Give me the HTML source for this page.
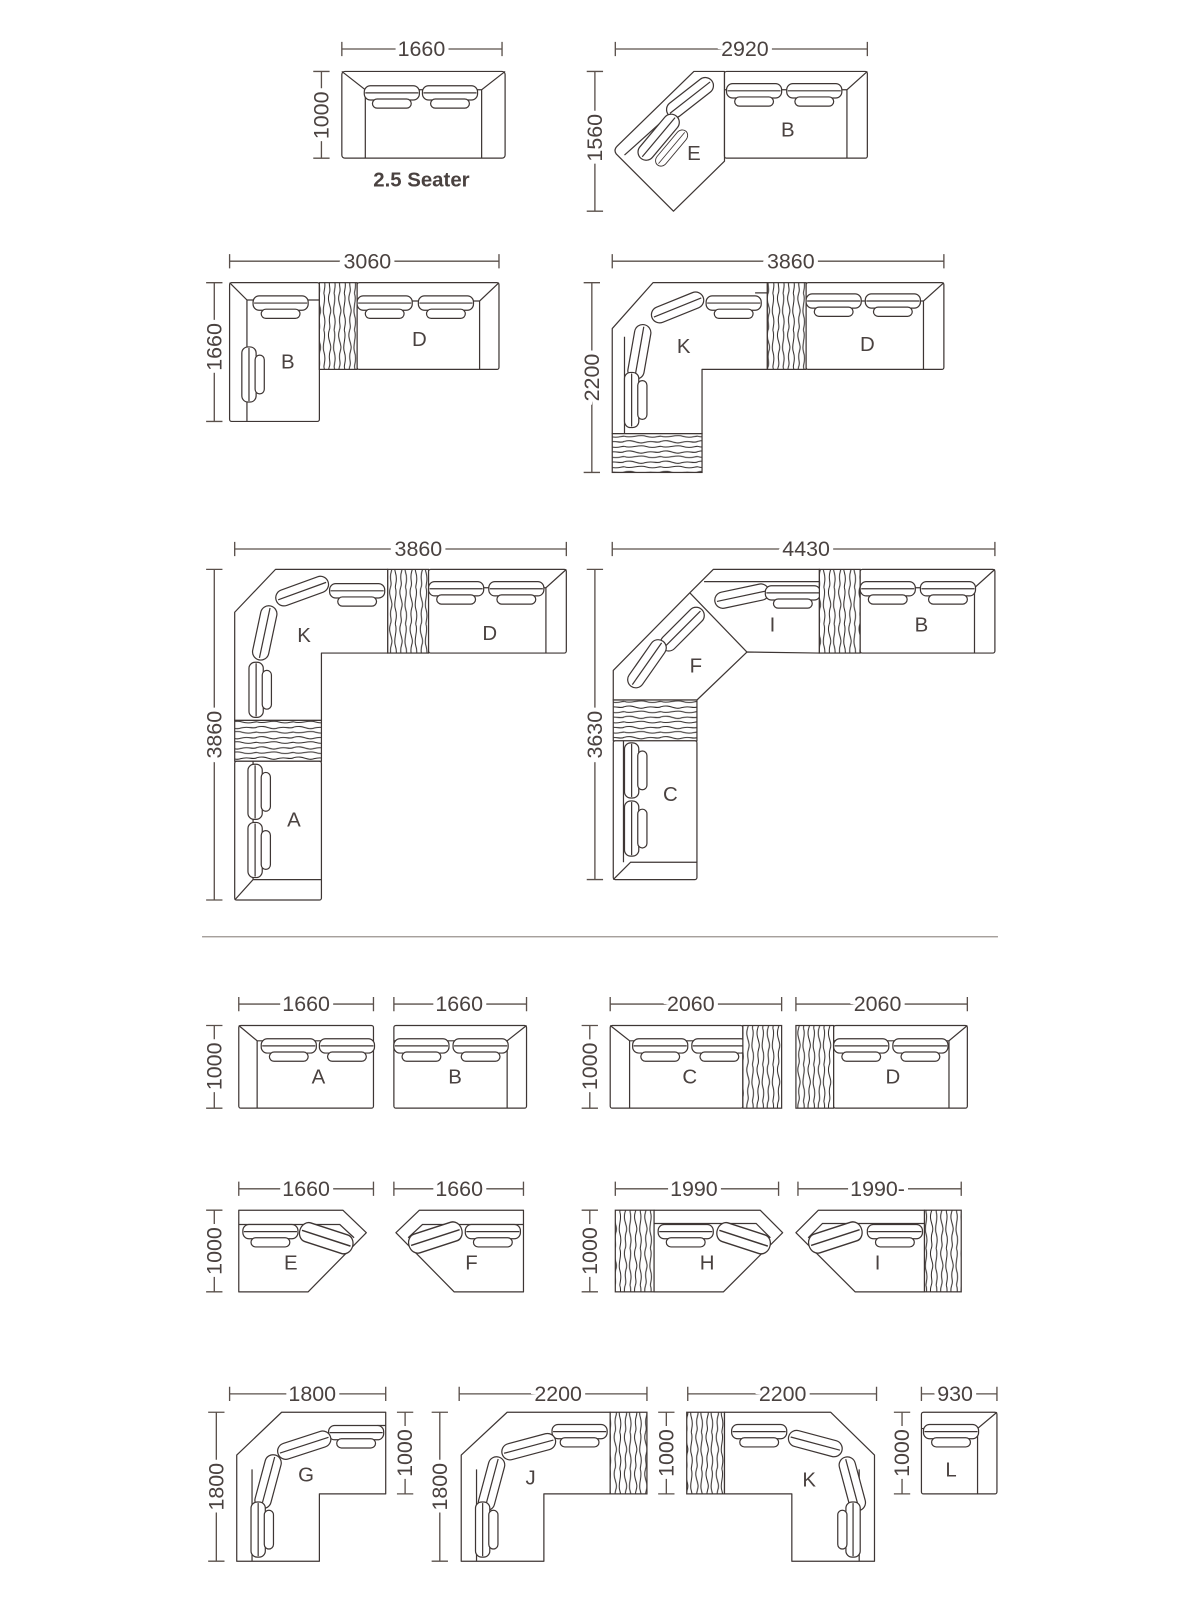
<!DOCTYPE html>
<html><head><meta charset="utf-8"><style>
html,body{margin:0;padding:0;background:#fff;}
svg{display:block;}
.s{fill:#fff;stroke:#3e3634;stroke-width:1.2;stroke-linejoin:round}
.n{fill:none;stroke:#3e3634;stroke-width:1.2}
.w{stroke:#3e3634;stroke-width:1.2}
.d{fill:none;stroke:#5a504b;stroke-width:1.3}
.t{font-family:"Liberation Sans",sans-serif;font-size:21px;fill:#4a4240;text-anchor:middle;stroke:#fff;stroke-width:8px;paint-order:stroke;}
.l{font-family:"Liberation Sans",sans-serif;font-size:20px;fill:#4a4240;text-anchor:middle;}
</style></head><body>
<svg width="1200" height="1600" viewBox="0 0 1176 1568" xmlns="http://www.w3.org/2000/svg">
<defs>
<pattern id="wv" width="10" height="36" patternUnits="userSpaceOnUse">
<rect width="10" height="36" fill="#fff"/>
<path d="M2.5,0 C0,9 6,13 3.5,20 C1,28 5,31 2.5,36 M7.5,0 C10,7 5,14 7.5,21 C10,29 7,33 7.5,36" fill="none" stroke="#2f2a28" stroke-width="1"/>
</pattern>
<pattern id="wh" width="36" height="10" patternUnits="userSpaceOnUse">
<rect width="36" height="10" fill="#fff"/>
<path d="M0,2.5 C9,0 13,6 20,3.5 C28,1 31,5 36,2.5 M0,7.5 C7,10 14,5 21,7.5 C29,10 33,7 36,7.5" fill="none" stroke="#2f2a28" stroke-width="1"/>
</pattern>
<g id="hc"><rect x="0" y="0" width="54" height="14" rx="6" class="s"/><line x1="1" y1="7" x2="53" y2="7" class="n"/><rect x="8" y="13" width="38" height="9" rx="4.5" class="s"/></g>
<g id="vc"><rect x="0" y="0" width="14" height="54" rx="6" class="s"/><line x1="7" y1="1" x2="7" y2="53" class="n"/><rect x="13" y="8" width="9" height="38" rx="4.5" class="s"/></g>
<g id="dc"><rect x="0" y="0" width="54" height="16" rx="8" class="s"/><line x1="2" y1="8" x2="52" y2="8" class="n"/></g>
</defs>

<!-- ========== 2.5 Seater ========== -->
<path class="d" d="M335,48H492M335,41V55M492,41V55"/><text class="t" x="413" y="55">1660</text>
<path class="d" d="M315,70V155M307,70H323M307,155H323"/><text class="t" transform="rotate(-90 315 113)" x="315" y="120">1000</text>
<rect class="s" x="335" y="70" width="160" height="85" rx="3"/>
<path class="n" d="M335,70L358,88V155M495,70L472,88V155M358,88H472"/>
<use href="#hc" x="357" y="84"/><use href="#hc" x="414" y="84"/>
<text class="l" x="413" y="183" style="font-weight:bold;font-size:20px">2.5 Seater</text>

<!-- ========== E + B ========== -->
<path class="d" d="M603,48H850M603,41V55M850,41V55"/><text class="t" x="730" y="55">2920</text>
<path class="d" d="M583,70V207M575,70H591M575,207H591"/><text class="t" transform="rotate(-90 583 135)" x="583" y="142">1560</text>
<path class="s" d="M680,70L710,70L710,158L660,207L604,151Q601,147 605,143Z"/>
<path class="n" d="M612,152L690,82"/>
<use href="#dc" transform="translate(650,106) rotate(-38)"/>
<use href="#dc" transform="translate(622,150) rotate(-50)"/>
<use href="#dc" transform="translate(640,158) rotate(-50) scale(0.8,0.7)"/>
<text class="l" x="680" y="157">E</text>
<rect class="s" x="710" y="70" width="140" height="85" rx="2"/>
<path class="n" d="M850,70L830,88V155M710,88H830"/>
<use href="#hc" x="712" y="82"/><use href="#hc" x="771" y="82"/>
<text class="l" x="772" y="134">B</text>

<!-- ========== 3060 ========== -->
<path class="d" d="M225,256H489M225,249V263M489,249V263"/><text class="t" x="360" y="263">3060</text>
<path class="d" d="M210,277V413M202,277H218M202,413H218"/><text class="t" transform="rotate(-90 210 340)" x="210" y="347">1660</text>
<rect class="s" x="225" y="277" width="88" height="136" rx="2"/>
<path class="n" d="M225,277L242,294V413M242,294H313"/>
<use href="#hc" x="248" y="290"/>
<use href="#vc" x="237" y="340"/>
<text class="l" x="282" y="361">B</text>
<rect x="313" y="277" width="37" height="85" style="fill:url(#wv)" class="w"/>
<rect class="s" x="350" y="277" width="139" height="85" rx="2"/>
<path class="n" d="M489,277L470,295V362M350,295H470"/>
<use href="#hc" x="350" y="290"/><use href="#hc" x="410" y="290"/>
<text class="l" x="411" y="339">D</text>

<!-- ========== 3860 (K + D) ========== -->
<path class="d" d="M600,256H925M600,249V263M925,249V263"/><text class="t" x="775" y="263">3860</text>
<path class="d" d="M580,277V463M572,277H588M572,463H588"/><text class="t" transform="rotate(-90 580 370)" x="580" y="377">2200</text>
<path class="s" d="M600,322L640,277L752,277L752,362L688,362L688,425L600,425Z"/>
<path class="n" d="M612,330V425M740,287H752"/>
<use href="#hc" x="692" y="290"/>
<use href="#dc" transform="translate(636,304) rotate(-22)"/>
<use href="#dc" transform="translate(614,370) rotate(-80)"/>
<use href="#vc" x="612" y="365"/>
<text class="l" x="670" y="346">K</text>
<rect x="752" y="277" width="38" height="85" style="fill:url(#wv)" class="w"/>
<rect class="s" x="790" y="277" width="135" height="85" rx="2"/>
<path class="n" d="M925,277L905,295V362M790,295H905"/>
<use href="#hc" x="790" y="288"/><use href="#hc" x="848" y="288"/>
<text class="l" x="850" y="344">D</text>
<rect x="600" y="425" width="88" height="38" style="fill:url(#wh)" class="w"/>

<!-- ========== 3860 (K D A) ========== -->
<path class="d" d="M230,538H555M230,531V545M555,531V545"/><text class="t" x="410" y="545">3860</text>
<path class="d" d="M210,558V882M202,558H218M202,882H218"/><text class="t" transform="rotate(-90 210 720)" x="210" y="727">3860</text>
<path class="s" d="M230,600L270,558L380,558L380,640L315,640L315,706L230,706Z"/>
<use href="#hc" x="323" y="572"/>
<use href="#dc" transform="translate(268,581) rotate(-20)"/>
<use href="#dc" transform="translate(246,645) rotate(-78)"/>
<use href="#vc" x="244" y="649"/>
<text class="l" x="298" y="629">K</text>
<rect x="380" y="558" width="40" height="82" style="fill:url(#wv)" class="w"/>
<rect class="s" x="420" y="558" width="135" height="82" rx="2"/>
<path class="n" d="M555,558L535,576V640M420,576H535"/>
<use href="#hc" x="420" y="570"/><use href="#hc" x="479" y="570"/>
<text class="l" x="480" y="627">D</text>
<rect x="230" y="706" width="85" height="40" style="fill:url(#wh)" class="w"/>
<rect class="s" x="230" y="746" width="85" height="136" rx="2"/>
<path class="n" d="M230,882L248,862H315M248,746V862"/>
<use href="#vc" x="243" y="749"/><use href="#vc" x="243" y="806"/>
<text class="l" x="288" y="810">A</text>

<!-- ========== 4430 ========== -->
<path class="d" d="M600,538H975M600,531V545M975,531V545"/><text class="t" x="790" y="545">4430</text>
<path class="d" d="M583,558V862M575,558H591M575,862H591"/><text class="t" transform="rotate(-90 583 720)" x="583" y="727">3630</text>
<path class="s" d="M601,686L601,657L676,581L699,558L803,558L803,640L732,639L683,686Z"/>
<path class="n" d="M676,581L732,639M690,570H803"/>
<use href="#dc" transform="translate(699,582) rotate(-12)"/>
<use href="#hc" x="750" y="574"/>
<use href="#dc" transform="translate(644,630) rotate(-45)"/>
<use href="#dc" transform="translate(612,668) rotate(-55)"/>
<text class="l" x="757" y="619">I</text>
<text class="l" x="682" y="659">F</text>
<rect x="803" y="558" width="40" height="82" style="fill:url(#wv)" class="w"/>
<rect class="s" x="843" y="558" width="132" height="82" rx="2"/>
<path class="n" d="M975,558L955,576V640M843,576H955"/>
<use href="#hc" x="843" y="570"/><use href="#hc" x="902" y="570"/>
<text class="l" x="903" y="619">B</text>
<rect x="601" y="686" width="82" height="40" style="fill:url(#wh)" class="w"/>
<rect class="s" x="601" y="726" width="82" height="136" rx="2"/>
<path class="n" d="M601,862L618,845H683M611,726V845"/>
<use href="#vc" x="612" y="728"/><use href="#vc" x="612" y="785"/>
<text class="l" x="657" y="785">C</text>

<!-- separator -->
<line x1="198" y1="918" x2="978" y2="918" stroke="#9a928e" stroke-width="1.2"/>

<!-- ========== Row 2 ========== -->
<path class="d" d="M234,984H366M234,977V991M366,977V991"/><text class="t" x="300" y="991">1660</text>
<path class="d" d="M210,1005V1086M202,1005H218M202,1086H218"/><text class="t" transform="rotate(-90 210 1045)" x="210" y="1052">1000</text>
<rect class="s" x="234" y="1005" width="132" height="81" rx="2"/>
<path class="n" d="M234,1005L252,1020V1086M252,1020H366"/>
<use href="#hc" x="256" y="1018"/><use href="#hc" x="313" y="1018"/>
<text class="l" x="312" y="1062">A</text>

<path class="d" d="M386,984H516M386,977V991M516,977V991"/><text class="t" x="450" y="991">1660</text>
<rect class="s" x="386" y="1005" width="130" height="81" rx="2"/>
<path class="n" d="M516,1005L497,1020V1086M386,1020H497"/>
<use href="#hc" x="386" y="1018"/><use href="#hc" x="444" y="1018"/>
<text class="l" x="446" y="1062">B</text>

<path class="d" d="M598,984H766M598,977V991M766,977V991"/><text class="t" x="677" y="991">2060</text>
<path class="d" d="M578,1005V1086M570,1005H586M570,1086H586"/><text class="t" transform="rotate(-90 578 1045)" x="578" y="1052">1000</text>
<rect class="s" x="598" y="1005" width="130" height="81" rx="2"/>
<path class="n" d="M598,1005L617,1020V1086M617,1020H728"/>
<use href="#hc" x="620" y="1018"/><use href="#hc" x="678" y="1018"/>
<text class="l" x="676" y="1062">C</text>
<rect x="728" y="1005" width="38" height="81" style="fill:url(#wv)" class="w"/>

<path class="d" d="M780,984H948M780,977V991M948,977V991"/><text class="t" x="860" y="991">2060</text>
<rect x="780" y="1005" width="37" height="81" style="fill:url(#wv)" class="w"/>
<rect class="s" x="817" y="1005" width="131" height="81" rx="2"/>
<path class="n" d="M948,1005L930,1020V1086M817,1020H930"/>
<use href="#hc" x="817" y="1018"/><use href="#hc" x="875" y="1018"/>
<text class="l" x="875" y="1062">D</text>

<!-- ========== Row 3 ========== -->
<path class="d" d="M234,1165H366M234,1158V1172M366,1158V1172"/><text class="t" x="300" y="1172">1660</text>
<path class="d" d="M210,1186V1266M202,1186H218M202,1266H218"/><text class="t" transform="rotate(-90 210 1226)" x="210" y="1233">1000</text>
<path class="s" d="M234,1186L336,1186L359,1208L302,1266L234,1266Z"/>
<path class="n" d="M234,1200H333L347,1213"/>
<use href="#hc" x="238" y="1200"/>
<use href="#dc" transform="translate(297,1196) rotate(18) scale(1,1.2)"/>
<text class="l" x="285" y="1244">E</text>

<path class="d" d="M386,1165H513M386,1158V1172M513,1158V1172"/><text class="t" x="450" y="1172">1660</text>
<path class="s" d="M513,1186L411,1186L388,1208L445,1266L513,1266Z"/>
<path class="n" d="M513,1200H414L400,1213"/>
<use href="#hc" x="456" y="1200"/>
<use href="#dc" transform="translate(398,1212) rotate(-18) scale(1,1.2)"/>
<text class="l" x="462" y="1244">F</text>

<path class="d" d="M603,1165H763M603,1158V1172M763,1158V1172"/><text class="t" x="680" y="1172">1990</text>
<path class="d" d="M578,1186V1266M570,1186H586M570,1266H586"/><text class="t" transform="rotate(-90 578 1226)" x="578" y="1233">1000</text>
<rect x="603" y="1186" width="38" height="80" style="fill:url(#wv)" class="w"/>
<path class="s" d="M641,1186L745,1186L767,1208L709,1266L641,1266Z"/>
<path class="n" d="M641,1199H741L755,1213"/>
<use href="#hc" x="645" y="1200"/>
<use href="#dc" transform="translate(706,1196) rotate(18) scale(1,1.2)"/>
<text class="l" x="693" y="1244">H</text>

<path class="d" d="M782,1165H942M782,1158V1172M942,1158V1172"/><text class="t" x="860" y="1172">1990-</text>
<path class="s" d="M906,1186L802,1186L780,1208L838,1266L906,1266Z"/>
<path class="n" d="M906,1199H806L792,1213"/>
<use href="#hc" x="850" y="1200"/>
<use href="#dc" transform="translate(790,1212) rotate(-18) scale(1,1.2)"/>
<text class="l" x="860" y="1244">I</text>
<rect x="906" y="1186" width="36" height="80" style="fill:url(#wv)" class="w"/>

<!-- ========== Row 4 ========== -->
<path class="d" d="M225,1366H378M225,1359V1373M378,1359V1373"/><text class="t" x="306" y="1373">1800</text>
<path class="d" d="M212,1384V1530M204,1384H220M204,1530H220"/><text class="t" transform="rotate(-90 212 1457)" x="212" y="1464">1800</text>
<path class="d" d="M397,1384V1464M389,1384H405M389,1464H405"/><text class="t" transform="rotate(-90 397 1424)" x="397" y="1431">1000</text>
<path class="s" d="M232,1426L276,1384L378,1384L378,1464L313,1464L313,1530L232,1530Z"/>
<path class="n" d="M247,1440V1530M370,1397H378"/>
<use href="#hc" x="322" y="1397"/>
<use href="#dc" transform="translate(270,1417) rotate(-18)"/>
<use href="#dc" transform="translate(248,1476) rotate(-75)"/>
<use href="#vc" x="246" y="1472"/>
<text class="l" x="300" y="1452">G</text>

<path class="d" d="M450,1366H634M450,1359V1373M634,1359V1373"/><text class="t" x="547" y="1373">2200</text>
<path class="d" d="M431,1384V1530M423,1384H439M423,1530H439"/><text class="t" transform="rotate(-90 431 1457)" x="431" y="1464">1800</text>
<path class="s" d="M452,1426L497,1384L598,1384L598,1464L533,1464L533,1530L452,1530Z"/>
<path class="n" d="M467,1440V1530"/>
<use href="#hc" x="541" y="1396"/>
<use href="#dc" transform="translate(490,1417) rotate(-15)"/>
<use href="#dc" transform="translate(467,1478) rotate(-75)"/>
<use href="#vc" x="466" y="1472"/>
<text class="l" x="520" y="1455">J</text>
<rect x="598" y="1384" width="36" height="80" style="fill:url(#wv)" class="w"/>

<path class="d" d="M653,1384V1464M645,1384H661M645,1464H661"/><text class="t" transform="rotate(-90 653 1424)" x="653" y="1431">1000</text>

<path class="d" d="M674,1366H859M674,1359V1373M859,1359V1373"/><text class="t" x="767" y="1373">2200</text>
<rect x="673" y="1384" width="37" height="80" style="fill:url(#wv)" class="w"/>
<path class="s" d="M710,1384L814,1384L857,1426L857,1530L776,1530L776,1464L710,1464Z"/>
<path class="n" d="M842,1440V1530"/>
<use href="#hc" x="717" y="1396"/>
<use href="#dc" transform="translate(775,1400) rotate(15)"/>
<use href="#dc" transform="translate(836,1426) rotate(75)"/>
<use href="#vc" transform="translate(843,1472) scale(-1,1)"/>
<text class="l" x="793" y="1457">K</text>

<path class="d" d="M903,1366H977M903,1359V1373M977,1359V1373"/><text class="t" x="936" y="1373">930</text>
<path class="d" d="M884,1384V1464M876,1384H892M876,1464H892"/><text class="t" transform="rotate(-90 884 1424)" x="884" y="1431">1000</text>
<rect class="s" x="903" y="1384" width="74" height="80" rx="2"/>
<path class="n" d="M977,1384L958,1400V1464M903,1400H958"/>
<use href="#hc" x="905" y="1396"/>
<text class="l" x="932" y="1447">L</text>
</svg>
</body></html>
